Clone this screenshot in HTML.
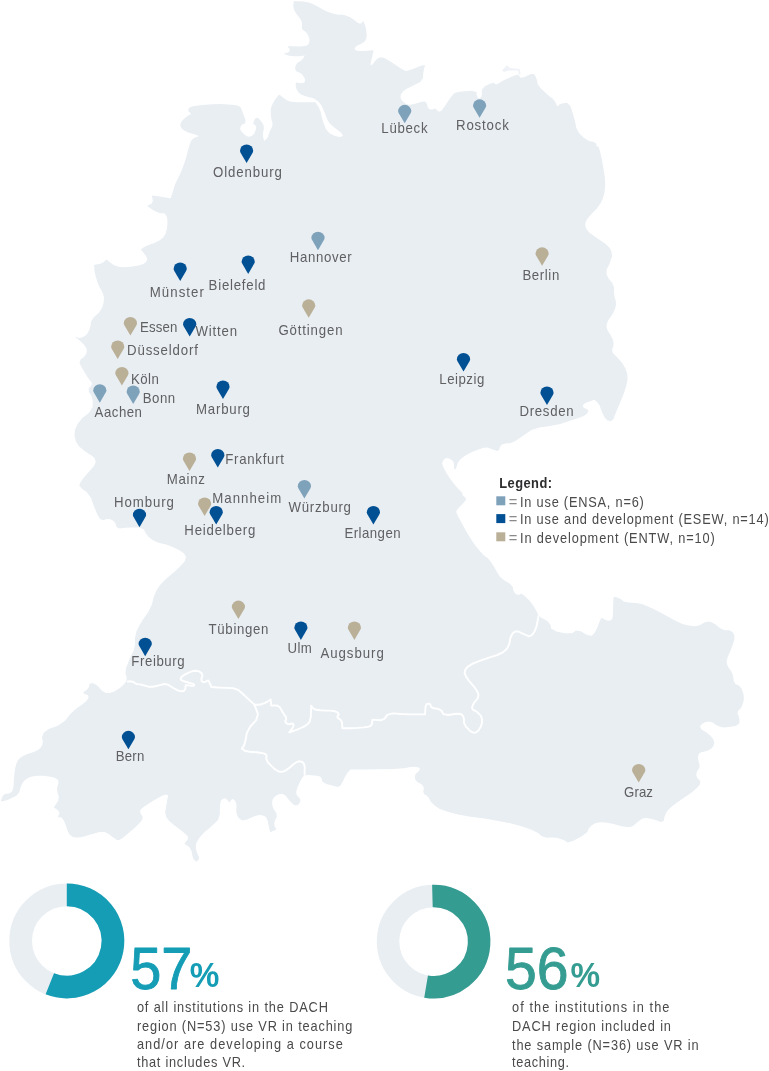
<!DOCTYPE html>
<html lang="en"><head><meta charset="utf-8"><title>VR in teaching – DACH region</title>
<style>
html,body{margin:0;padding:0;background:#fff;}
body{width:769px;height:1071px;overflow:hidden;}
svg{display:block;}
text{font-family:"Liberation Sans",sans-serif;}
.city{font-size:14.4px;fill:#606062;}
.leg{font-size:13.9px;fill:#4a4a4c;}
.para{font-size:13.9px;fill:#4a4a4c;}
</style></head><body>
<svg width="769" height="1071" viewBox="0 0 769 1071">
<rect width="769" height="1071" fill="#fff"/>

<path d="M293.6,1.2 L293.6,1.2 L296.9,1.3 L303.5,1.5 L308.8,2.4 L312.7,3.9 L317.3,6.2 L322.8,9.4 L328.2,11.9 L333.8,13.8 L338.1,14.7 L341.1,14.5 L345.0,15.3 L349.7,17.1 L353.6,19.4 L356.7,22.0 L359.1,23.4 L360.6,23.4 L361.9,22.7 L362.8,21.5 L363.3,20.8 L363.3,20.8 L364.0,22.6 L365.4,26.2 L366.3,30.4 L366.7,35.1 L366.3,38.6 L365.2,41.0 L362.3,43.3 L357.5,45.6 L355.0,47.6 L354.6,49.2 L355.8,50.3 L358.5,50.9 L363.3,51.0 L370.2,50.5 L373.6,50.2 L373.6,50.2 L373.2,52.1 L372.4,55.8 L371.5,59.7 L370.5,63.5 L370.6,65.3 L371.8,65.0 L373.5,63.2 L375.9,60.1 L378.2,58.0 L380.8,57.2 L384.4,58.0 L389.1,60.7 L394.6,64.2 L400.9,68.5 L405.2,70.7 L407.5,70.7 L413.0,69.0 L421.5,65.5 L425.2,65.3 L424.1,68.4 L423.3,72.7 L422.9,78.2 L420.3,82.1 L415.7,84.3 L411.0,86.7 L406.3,89.0 L403.0,91.6 L401.0,94.3 L400.4,96.9 L401.2,99.2 L403.0,101.6 L405.6,103.8 L408.6,104.8 L411.7,104.5 L416.1,103.5 L421.6,101.8 L424.9,101.4 L426.0,102.3 L427.0,104.3 L427.8,107.4 L429.4,109.2 L431.7,109.5 L433.5,109.3 L434.6,108.6 L436.4,109.4 L438.7,111.7 L441.4,110.8 L444.5,106.4 L447.6,102.0 L450.8,97.3 L453.3,94.2 L455.1,92.8 L461.1,91.6 L471.3,90.8 L476.5,91.9 L476.7,95.0 L477.4,97.1 L478.7,98.4 L479.9,98.4 L481.2,97.1 L481.9,94.3 L481.9,89.8 L484.9,86.2 L490.6,83.4 L494.1,82.8 L495.3,84.3 L497.1,84.3 L499.4,82.8 L503.3,80.6 L508.8,77.9 L513.2,75.9 L516.8,74.8 L519.1,75.4 L520.3,77.7 L524.0,77.3 L530.2,74.2 L534.1,74.0 L535.7,76.7 L536.9,80.0 L537.6,84.0 L540.4,88.1 L545.0,92.3 L549.1,95.9 L552.6,98.6 L555.2,101.8 L556.7,105.2 L558.1,106.2 L559.3,104.6 L562.2,103.4 L566.9,102.7 L570.5,106.2 L573.0,114.1 L575.0,121.2 L576.3,127.8 L579.2,133.2 L583.8,137.8 L588.6,140.7 L593.8,142.0 L596.4,143.7 L596.4,145.6 L597.0,146.6 L598.4,146.6 L600.0,151.1 L602.0,160.2 L603.6,169.0 L604.9,177.5 L605.2,185.3 L604.5,192.4 L602.9,198.6 L600.3,203.8 L596.4,209.0 L591.2,214.2 L587.6,218.4 L585.7,221.7 L585.2,225.1 L586.1,228.6 L589.2,232.4 L594.4,236.2 L599.9,240.1 L605.8,244.1 L609.7,247.9 L611.6,251.9 L612.0,256.1 L610.6,260.7 L609.0,264.9 L607.0,268.8 L606.4,272.3 L607.0,275.6 L609.0,279.1 L612.4,283.1 L614.0,287.6 L614.0,292.8 L614.6,297.3 L615.9,301.2 L615.9,305.5 L614.6,310.0 L612.4,314.6 L609.0,319.1 L607.0,323.0 L606.4,326.4 L607.6,330.6 L611.0,335.7 L613.0,339.9 L613.6,343.2 L613.3,346.4 L612.0,349.7 L612.9,352.9 L616.2,356.2 L619.4,359.8 L622.7,363.7 L625.3,368.2 L627.2,373.4 L627.6,379.2 L626.2,385.8 L624.3,392.2 L621.7,398.8 L619.3,404.5 L617.1,409.5 L615.1,414.4 L613.4,419.2 L610.9,421.3 L607.6,420.6 L604.8,417.7 L602.2,412.4 L600.6,408.5 L599.9,406.0 L598.2,403.4 L595.7,400.7 L593.7,399.7 L592.4,400.5 L589.7,401.5 L585.8,402.7 L583.5,404.4 L582.8,406.3 L584.1,408.0 L587.4,409.3 L588.4,411.2 L587.0,413.8 L583.8,416.0 L578.6,418.0 L570.8,420.6 L560.4,423.9 L550.0,426.1 L539.6,427.4 L531.5,430.0 L525.6,434.0 L520.1,437.8 L514.9,441.2 L510.0,443.2 L505.5,443.5 L502.4,444.3 L500.8,445.7 L499.7,447.6 L499.0,450.2 L497.2,451.0 L494.3,450.0 L491.2,448.9 L487.9,447.6 L483.7,447.8 L478.6,449.4 L473.1,451.6 L467.1,454.6 L462.8,457.3 L459.8,459.9 L457.7,463.1 L456.5,467.1 L455.4,469.2 L454.4,469.5 L454.0,467.8 L454.0,463.8 L453.0,461.1 L451.0,459.4 L448.9,458.5 L446.5,458.1 L444.5,459.0 L442.9,460.9 L442.2,463.0 L442.6,465.3 L444.2,469.0 L447.2,474.2 L450.9,479.7 L455.4,485.6 L458.8,489.5 L461.2,491.4 L462.3,493.0 L462.3,494.4 L463.3,495.8 L465.2,497.5 L466.0,499.0 L465.7,500.2 L463.2,503.2 L458.7,507.7 L456.4,510.8 L456.4,512.4 L458.0,516.3 L461.4,522.5 L465.2,529.5 L469.8,537.3 L474.6,544.5 L479.8,551.0 L484.0,555.4 L487.4,557.8 L490.6,561.6 L494.0,566.8 L496.9,571.7 L499.5,576.2 L503.7,580.1 L509.6,583.4 L512.8,587.0 L513.5,590.8 L515.1,593.4 L517.7,594.8 L519.6,594.8 L521.0,593.4 L524.2,595.4 L529.4,600.6 L533.3,605.5 L535.9,610.0 L537.5,613.3 L538.2,615.2 L541.4,617.8 L547.3,621.1 L550.5,624.7 L551.2,628.5 L556.4,631.5 L566.1,633.4 L572.6,633.1 L575.9,630.5 L580.8,631.2 L587.2,635.0 L591.8,635.7 L594.4,633.1 L596.9,628.5 L599.4,621.9 L601.0,618.5 L601.6,618.1 L603.0,618.6 L605.2,619.7 L607.2,620.4 L609.3,620.7 L611.0,620.1 L612.4,618.9 L613.0,613.2 L613.2,603.0 L613.5,597.6 L614.2,597.0 L615.8,597.0 L618.5,597.9 L621.1,599.3 L623.7,601.5 L628.6,602.6 L635.9,602.9 L642.1,604.1 L647.4,606.2 L652.5,608.5 L657.5,611.0 L665.0,615.0 L675.0,620.5 L682.5,624.0 L687.5,625.3 L691.9,626.1 L695.8,626.3 L700.0,625.1 L704.5,622.5 L708.4,621.5 L711.7,622.2 L715.6,624.5 L720.1,628.3 L724.7,630.3 L729.2,630.3 L732.5,631.9 L734.4,635.2 L734.4,639.7 L732.5,645.6 L730.2,651.4 L727.6,657.3 L726.6,661.8 L727.3,665.1 L728.9,668.3 L731.5,671.6 L733.1,675.8 L733.7,681.0 L735.6,684.2 L739.0,685.6 L741.6,688.8 L743.5,694.0 L743.9,699.2 L742.6,704.4 L740.7,708.3 L738.0,710.9 L737.4,713.5 L738.7,716.1 L739.4,719.3 L739.4,723.3 L735.8,725.9 L728.6,727.1 L723.4,727.5 L720.1,726.8 L716.5,725.2 L712.7,722.6 L708.8,721.6 L704.9,722.3 L702.0,723.9 L700.0,726.5 L701.6,729.4 L706.8,732.7 L710.7,735.9 L713.3,739.2 L714.3,742.4 L713.6,745.7 L711.7,748.3 L708.4,750.2 L704.8,751.5 L701.0,752.2 L698.7,754.1 L698.0,757.4 L698.4,761.0 L699.6,764.8 L699.3,768.1 L697.4,770.7 L696.4,773.3 L696.4,775.9 L697.7,778.5 L700.3,781.1 L699.9,784.5 L696.4,788.6 L690.7,793.3 L682.9,798.4 L676.4,803.0 L671.2,807.0 L667.6,810.6 L665.7,813.8 L664.4,817.2 L663.7,820.9 L660.8,821.9 L655.6,820.1 L650.8,818.8 L646.2,818.0 L642.4,818.6 L639.0,820.9 L636.1,823.2 L633.5,825.8 L630.2,827.0 L626.3,827.0 L620.5,825.9 L612.7,823.8 L605.8,822.5 L600.0,822.2 L595.1,823.2 L591.2,825.8 L588.6,828.6 L587.4,832.0 L582.2,836.1 L573.0,841.0 L567.5,842.6 L565.6,840.9 L562.3,839.4 L557.8,838.1 L552.6,837.6 L546.7,837.7 L541.8,836.2 L538.0,832.9 L531.5,829.7 L522.3,826.4 L511.3,823.5 L498.3,820.9 L484.7,818.6 L470.3,816.7 L458.0,814.4 L447.6,811.8 L439.8,808.9 L434.6,805.6 L431.0,802.0 L429.0,798.2 L426.8,795.6 L424.2,794.2 L423.3,791.7 L423.9,787.7 L421.9,784.5 L417.3,781.9 L415.0,779.0 L415.0,775.6 L416.0,773.4 L418.0,772.1 L419.3,770.6 L420.0,768.9 L418.7,767.6 L415.4,766.7 L410.6,767.0 L404.1,768.3 L392.9,769.1 L376.9,769.3 L364.4,769.4 L355.1,769.6 L350.5,769.6 L350.5,769.6 L349.5,770.6 L347.6,772.5 L345.2,776.4 L342.5,782.3 L340.3,785.7 L338.8,786.6 L338.0,787.1 L338.0,787.1 L334.1,786.1 L326.3,783.9 L322.2,781.5 L321.8,778.8 L320.6,776.9 L318.7,776.0 L314.6,775.4 L308.4,775.1 L304.5,775.6 L302.9,776.8 L300.6,780.6 L297.6,787.1 L296.2,791.5 L296.3,793.8 L297.6,796.2 L299.9,798.5 L300.5,801.1 L299.1,803.8 L297.5,805.2 L295.6,805.5 L293.4,804.5 L291.1,802.3 L288.7,799.7 L286.4,796.5 L284.0,794.6 L281.7,793.8 L278.9,794.2 L275.9,795.7 L273.7,797.7 L272.5,800.0 L272.1,802.8 L272.5,805.9 L273.9,809.5 L276.4,813.3 L276.8,816.8 L275.2,820.0 L274.3,822.7 L274.3,825.0 L274.9,827.0 L276.0,828.5 L276.6,829.3 L276.6,829.3 L275.1,830.1 L271.9,831.6 L270.4,832.4 L270.4,832.4 L270.1,831.6 L269.6,830.1 L268.8,826.6 L267.7,821.1 L266.2,817.6 L264.3,816.1 L261.8,815.2 L258.7,815.0 L253.8,816.5 L247.1,819.6 L242.5,820.5 L239.8,819.1 L237.8,816.8 L236.6,813.7 L236.2,810.2 L236.6,806.2 L236.2,803.1 L235.1,800.9 L233.8,799.5 L232.5,799.1 L231.2,799.9 L229.9,801.8 L229.3,802.8 L229.3,802.8 L228.7,801.8 L227.3,799.9 L225.9,798.7 L224.4,798.3 L222.7,798.9 L220.9,800.4 L219.9,805.5 L219.8,814.1 L218.1,819.9 L215.0,823.1 L210.7,827.0 L205.2,831.6 L201.1,835.8 L198.4,839.2 L196.6,842.4 L195.9,845.1 L195.9,848.0 L196.6,851.2 L197.7,854.2 L199.0,857.1 L198.8,859.4 L197.1,861.0 L196.2,861.8 L196.2,861.8 L195.4,861.1 L193.9,859.7 L192.5,856.2 L191.4,850.8 L189.2,846.9 L185.9,844.8 L184.3,843.7 L184.3,843.7 L185.5,842.3 L187.8,839.3 L188.0,836.7 L186.0,834.4 L181.3,830.5 L173.9,825.0 L168.8,820.5 L166.2,817.0 L165.2,812.7 L165.9,807.7 L166.8,802.6 L167.7,797.5 L168.2,795.0 L168.2,795.0 L167.3,794.9 L165.7,794.6 L162.2,795.8 L157.1,798.4 L151.2,802.0 L144.3,806.5 L140.6,809.6 L140.1,811.5 L140.8,813.9 L142.7,816.9 L142.1,820.1 L139.1,823.6 L134.8,827.8 L129.2,832.4 L124.8,836.2 L121.2,839.1 L118.5,840.2 L116.6,839.7 L113.2,837.6 L108.6,833.9 L104.7,832.0 L101.5,831.9 L98.4,832.2 L95.2,833.2 L90.5,834.6 L84.2,836.5 L79.1,837.5 L75.2,837.5 L72.1,836.5 L69.6,834.6 L67.7,831.3 L66.2,826.6 L64.7,822.6 L63.2,819.4 L61.2,817.6 L58.9,817.3 L57.7,817.2 L57.7,817.2 L58.3,815.9 L59.5,813.1 L58.5,810.7 L55.4,808.5 L53.8,807.4 L53.8,807.4 L55.2,805.2 L58.2,800.7 L58.8,796.4 L57.3,792.0 L57.1,787.8 L58.4,783.5 L58.3,780.6 L56.9,779.0 L53.9,777.6 L49.1,776.5 L43.7,775.8 L37.4,775.7 L32.1,776.4 L27.8,777.9 L24.5,780.4 L22.2,783.6 L20.5,787.6 L19.3,792.3 L16.4,795.8 L11.7,798.1 L7.5,799.9 L3.6,801.0 L1.6,801.6 L1.6,801.6 L1.4,801.2 L1.0,800.5 L1.6,798.5 L3.1,795.4 L5.3,793.8 L8.0,793.8 L10.4,792.8 L12.3,790.9 L13.5,786.8 L13.8,780.6 L14.4,774.4 L15.2,768.1 L16.4,763.4 L17.9,760.3 L20.3,757.7 L23.4,755.8 L28.1,753.7 L34.4,751.7 L38.6,749.5 L41.0,747.3 L42.3,744.7 L42.8,741.5 L42.6,739.6 L42.0,739.0 L42.2,736.7 L43.6,732.7 L48.8,729.1 L57.8,725.7 L65.0,720.8 L70.2,714.2 L76.0,708.8 L82.5,704.2 L86.8,700.4 L88.7,697.3 L87.8,695.0 L83.9,693.7 L83.6,692.0 L86.8,690.0 L88.7,687.4 L89.4,684.3 L91.3,683.0 L94.4,683.7 L98.0,686.2 L102.0,690.8 L106.0,693.0 L109.8,693.0 L114.3,691.4 L119.5,688.2 L123.3,685.0 L126.1,681.6 L126.8,677.8 L125.4,673.2 L126.1,667.8 L128.7,661.2 L131.2,655.4 L133.8,650.2 L135.0,644.4 L135.0,637.9 L136.3,631.7 L139.1,625.9 L143.0,619.4 L148.2,612.2 L151.8,604.7 L153.7,596.9 L156.6,590.2 L160.3,584.8 L166.1,578.8 L173.9,572.2 L180.1,566.4 L184.7,561.2 L186.0,557.0 L184.0,553.6 L179.8,550.4 L173.2,547.2 L166.1,544.6 L158.3,542.7 L152.5,540.1 L148.5,536.8 L145.6,533.2 L143.7,529.3 L139.1,527.4 L132.0,527.4 L125.5,527.7 L119.6,528.4 L116.4,527.1 L115.7,523.8 L113.8,521.2 L110.6,519.3 L107.0,519.0 L103.0,520.3 L99.8,518.7 L97.2,514.1 L94.3,507.2 L91.1,498.2 L86.8,492.0 L81.6,488.6 L79.3,485.8 L80.0,483.2 L82.2,479.7 L86.1,475.1 L90.0,470.5 L94.0,466.0 L95.7,462.1 L94.9,458.8 L92.3,455.9 L87.8,453.3 L83.2,450.1 L78.7,446.1 L75.8,441.3 L74.4,435.4 L75.1,429.6 L77.7,423.7 L82.4,418.1 L89.1,412.7 L92.6,406.9 L92.7,400.8 L91.4,395.8 L88.7,391.8 L88.7,388.3 L91.4,385.2 L92.0,382.8 L90.5,381.3 L87.7,377.4 L83.8,371.1 L81.0,366.2 L79.5,362.8 L80.5,359.6 L84.0,356.9 L86.1,353.9 L86.9,350.9 L86.3,347.9 L84.4,345.2 L81.2,342.0 L76.9,338.3 L74.8,336.5 L74.8,336.5 L76.2,337.0 L78.9,337.9 L81.8,337.6 L85.0,336.1 L87.5,333.4 L89.4,329.4 L90.6,325.6 L91.0,321.6 L93.8,317.3 L98.9,312.7 L102.2,307.6 L103.7,302.1 L104.0,297.5 L103.1,293.9 L101.6,290.5 L99.7,287.6 L97.7,283.0 L95.8,276.7 L94.6,271.5 L94.2,267.1 L94.0,265.0 L94.0,265.0 L96.0,264.6 L99.8,263.9 L103.0,262.5 L105.3,260.6 L106.5,259.6 L106.5,259.6 L108.8,261.4 L113.6,264.9 L118.6,266.8 L124.1,267.2 L130.7,266.8 L138.5,265.6 L143.6,264.0 L145.9,262.1 L147.1,260.1 L147.1,258.2 L145.5,255.2 L142.5,251.4 L140.9,249.4 L140.9,249.4 L142.1,248.6 L144.3,247.1 L148.6,245.1 L154.9,242.8 L159.8,240.2 L163.2,237.5 L165.6,233.8 L166.8,229.2 L167.4,224.5 L167.4,219.8 L166.6,216.3 L165.1,214.0 L163.3,213.0 L161.4,213.4 L158.6,212.8 L155.1,211.2 L151.8,209.2 L148.6,206.9 L147.1,205.7 L147.1,205.7 L148.6,204.9 L151.8,203.4 L152.9,200.8 L152.2,197.3 L151.8,195.6 L151.8,195.6 L153.4,195.7 L156.4,196.0 L161.1,196.7 L167.4,197.8 L170.5,198.4 L170.5,198.4 L171.3,196.2 L172.8,191.7 L173.9,188.3 L174.4,186.0 L176.2,181.8 L179.4,175.5 L182.1,169.3 L184.4,163.0 L186.4,156.8 L187.9,150.5 L189.5,145.2 L191.0,141.0 L193.6,138.2 L197.1,136.8 L198.9,136.2 L198.9,136.2 L198.1,135.8 L196.5,135.0 L193.2,133.9 L188.1,132.5 L184.2,130.6 L181.5,128.3 L180.3,125.7 L180.7,123.1 L182.5,120.3 L185.6,117.6 L188.2,115.6 L190.1,114.5 L191.1,113.9 L191.1,113.9 L190.2,112.9 L188.4,111.0 L188.2,109.2 L189.6,107.6 L193.0,106.3 L198.5,105.5 L205.1,104.8 L212.9,104.2 L220.7,104.1 L228.5,104.4 L234.4,104.9 L238.2,105.7 L240.8,107.6 L242.0,110.8 L243.6,114.8 L245.5,120.0 L245.1,123.2 L242.4,124.6 L240.7,126.3 L240.2,128.4 L240.8,130.5 L242.5,132.4 L244.5,134.4 L246.8,136.3 L249.4,136.8 L252.1,135.7 L254.3,133.4 L255.8,129.7 L256.2,127.1 L255.4,125.6 L254.4,124.6 L253.3,124.2 L253.3,122.7 L254.4,119.9 L255.6,118.3 L256.8,117.8 L258.3,118.3 L260.1,120.1 L261.9,122.3 L263.5,125.0 L263.9,128.5 L263.1,132.8 L263.0,136.4 L263.8,139.5 L264.2,141.0 L264.2,141.0 L265.0,140.2 L266.8,138.8 L268.1,136.5 L268.9,133.5 L270.3,130.2 L272.1,126.8 L272.6,123.6 L271.8,120.7 L271.1,117.0 L270.6,112.3 L271.0,108.0 L272.4,104.2 L274.6,100.2 L277.6,96.4 L279.2,94.4 L279.2,94.4 L280.6,95.6 L283.6,97.9 L286.6,99.9 L289.6,101.4 L297.2,102.2 L309.3,102.2 L315.4,102.2 L315.4,102.2 L316.6,104.0 L318.9,107.5 L320.7,111.9 L321.8,117.3 L323.5,123.0 L325.9,129.0 L329.8,133.4 L335.2,136.1 L339.6,137.0 L343.0,136.0 L341.0,132.6 L333.6,126.9 L329.3,122.9 L327.8,120.6 L326.3,117.3 L324.8,113.0 L323.0,108.8 L321.1,105.0 L318.7,101.9 L316.0,99.7 L312.7,98.1 L308.8,97.2 L304.9,96.0 L300.9,94.4 L298.1,92.0 L296.5,89.0 L295.7,86.2 L295.8,83.7 L295.9,82.4 L295.9,82.4 L298.0,82.7 L302.4,83.2 L304.7,82.3 L305.1,80.0 L304.3,77.4 L302.4,74.7 L299.8,72.7 L296.7,71.6 L295.2,69.2 L295.5,65.8 L297.2,63.0 L300.5,61.1 L302.8,58.9 L304.2,56.6 L304.9,55.4 L304.9,55.4 L303.0,55.7 L299.4,56.2 L294.8,56.2 L289.2,55.7 L285.9,54.8 L284.8,53.7 L284.2,53.1 L284.2,53.1 L285.4,53.0 L287.7,52.8 L289.2,51.8 L289.7,50.1 L289.3,48.5 L288.0,47.0 L287.3,46.3 L287.3,46.3 L291.8,46.3 L300.8,46.5 L306.3,45.8 L308.2,44.4 L309.3,42.3 L309.5,39.6 L308.9,36.9 L307.5,34.1 L305.5,31.8 L302.8,29.9 L301.6,27.9 L302.1,26.0 L302.1,23.8 L301.6,21.5 L300.0,18.6 L297.3,15.1 L295.2,11.9 L293.9,9.2 L293.3,6.1 L293.5,2.8 Z" fill="#e9eef3"/>
<path d="M127.6,681.5 L128.8,681.5 L131.3,681.3 L133.4,682.0 L135.2,683.3 L137.3,684.1 L139.8,684.4 L143.4,685.2 L148.2,686.7 L152.8,686.8 L157.6,685.7 L161.5,684.7 L164.6,684.0 L167.8,684.6 L170.9,686.5 L174.2,688.5 L177.8,690.4 L180.9,691.3 L183.6,691.0 L185.2,689.4 L185.5,686.6 L185.7,685.1 L185.7,685.1 L187.7,685.4 L191.6,685.9 L193.8,685.7 L194.3,684.8 L193.0,683.8 L189.7,683.0 L186.3,682.0 L182.8,680.9 L180.9,679.8 L180.5,678.7 L181.5,677.1 L183.8,675.2 L187.2,673.3 L191.4,671.5 L194.9,670.7 L197.7,671.0 L200.0,671.9 L201.9,673.4 L202.4,675.8 L201.4,678.8 L201.6,680.9 L203.0,682.0 L204.9,682.0 L207.2,680.9 L208.4,680.4 L208.4,680.4 L209.2,682.1 L210.7,685.4 L211.5,687.1 L211.5,687.1 L214.2,687.3 L219.7,687.6 L225.9,687.9 L233.0,688.1 L238.6,690.2 L242.9,694.0 L247.3,698.1 L252.1,702.5 L254.4,704.6" fill="none" stroke="#fff" stroke-width="1.9" stroke-linejoin="round" stroke-linecap="round"/>
<path d="M254.4,704.6 L255.8,704.7 L258.6,704.7 L261.6,704.2 L264.6,703.1 L267.3,701.7 L269.5,700.2 L270.6,699.4 L270.6,699.4 L270.8,700.9 L271.0,704.1 L271.2,705.6 L271.2,705.6 L273.1,705.5 L276.8,705.4 L279.9,707.3 L282.2,711.4 L284.2,714.6 L286.0,717.1 L286.3,719.3 L285.2,721.1 L285.8,722.6 L287.8,724.0 L289.9,724.2 L291.8,723.5 L293.1,723.8 L293.7,725.2 L292.8,727.5 L290.5,730.8 L289.3,732.4 L289.3,732.4 L291.7,731.5 L296.6,729.9 L300.9,728.0 L304.9,726.1 L307.8,723.9 L309.7,721.6 L310.8,716.7 L311.1,709.3 L311.2,705.6 L311.2,705.6 L311.8,706.6 L313.2,708.5 L316.0,709.8 L320.2,710.3 L325.1,710.6 L330.6,710.6 L334.9,711.3 L338.0,712.7 L338.8,714.4 L337.3,716.3 L337.9,718.1 L340.5,719.6 L342.0,722.3 L342.3,726.3 L342.4,728.2 L342.4,728.2 L345.2,728.2 L350.8,728.2 L357.1,727.9 L364.2,727.4 L368.8,726.6 L370.9,725.6 L372.1,723.8 L372.3,721.1 L372.4,719.7 L372.4,719.7 L375.1,719.9 L380.6,720.3 L384.6,718.6 L387.2,714.9 L392.7,713.4 L401.2,714.0 L410.3,714.4 L420.1,714.4 L425.0,714.4 L425.0,714.4 L425.2,711.8 L425.5,706.6 L426.8,703.9 L428.9,703.6 L430.4,704.6 L431.0,706.9 L433.7,708.3 L438.2,708.9 L441.5,710.8 L443.4,714.1 L448.3,715.0 L456.1,713.7 L461.0,714.0 L463.0,716.0 L464.0,719.0 L464.0,722.8 L465.9,726.7 L469.8,730.7 L473.0,732.6 L475.7,732.6 L478.2,730.7 L480.8,726.7 L482.0,722.8 L482.0,719.0 L480.8,715.7 L478.2,713.1 L475.7,711.1 L473.0,709.9 L472.0,707.9 L472.7,705.3 L474.6,702.0 L477.9,698.2 L478.5,694.3 L476.6,690.3 L473.3,685.8 L468.8,680.6 L465.9,676.4 L464.6,673.1 L465.2,669.9 L467.8,666.6 L473.2,663.4 L481.8,660.1 L489.7,657.4 L497.1,655.1 L502.8,652.4 L506.7,649.0 L509.3,644.1 L510.5,637.6 L512.5,633.4 L515.1,631.5 L518.3,631.5 L522.2,633.4 L525.8,635.0 L529.1,636.4 L532.0,635.0 L534.7,631.2 L536.6,626.0 L537.9,619.5 L538.5,616.2" fill="none" stroke="#fff" stroke-width="1.9" stroke-linejoin="round" stroke-linecap="round"/>
<path d="M254.4,704.6 L255.6,707.7 L257.9,714.0 L256.2,720.2 L250.3,726.5 L246.8,733.1 L245.6,740.1 L244.2,744.9 L242.7,747.4 L241.9,748.6 L241.9,748.6 L242.9,749.3 L244.8,750.7 L249.4,751.7 L256.4,752.3 L261.8,753.0 L265.2,753.9 L266.7,755.8 L266.2,758.7 L267.9,762.4 L272.0,766.6 L275.6,769.7 L278.7,771.5 L281.9,771.9 L284.9,770.9 L288.9,768.3 L293.5,764.2 L297.3,761.8 L300.0,761.3 L302.3,762.0 L304.0,763.9 L304.8,767.4 L304.6,772.3 L304.5,774.8" fill="none" stroke="#fff" stroke-width="1.9" stroke-linejoin="round" stroke-linecap="round"/>
<path d="M502,70.6 L506.8,65.2 L510,68.1 L519.6,69.1 L520.6,74.4 L518.6,74.6 L518.4,70.6 L509,70.5 L504,71.9 Z" fill="#e9eef3" opacity="0.75"/>
<path transform="translate(404.7,104.8)" d="M0,18.5 L-5.9,8.4 Q-6.6,7.2 -6.6,6.3 A6.6,6.3 0 0 1 6.6,6.3 Q6.6,7.2 5.9,8.4 Z" fill="#7fa2bb"/>
<path transform="translate(479.6,99.3)" d="M0,18.5 L-5.9,8.4 Q-6.6,7.2 -6.6,6.3 A6.6,6.3 0 0 1 6.6,6.3 Q6.6,7.2 5.9,8.4 Z" fill="#7fa2bb"/>
<path transform="translate(246.6,144.5)" d="M0,18.5 L-5.9,8.4 Q-6.6,7.2 -6.6,6.3 A6.6,6.3 0 0 1 6.6,6.3 Q6.6,7.2 5.9,8.4 Z" fill="#005093"/>
<path transform="translate(318.0,231.7)" d="M0,18.5 L-5.9,8.4 Q-6.6,7.2 -6.6,6.3 A6.6,6.3 0 0 1 6.6,6.3 Q6.6,7.2 5.9,8.4 Z" fill="#7fa2bb"/>
<path transform="translate(248.2,255.4)" d="M0,18.5 L-5.9,8.4 Q-6.6,7.2 -6.6,6.3 A6.6,6.3 0 0 1 6.6,6.3 Q6.6,7.2 5.9,8.4 Z" fill="#005093"/>
<path transform="translate(180.2,262.5)" d="M0,18.5 L-5.9,8.4 Q-6.6,7.2 -6.6,6.3 A6.6,6.3 0 0 1 6.6,6.3 Q6.6,7.2 5.9,8.4 Z" fill="#005093"/>
<path transform="translate(542.1,247.3)" d="M0,18.5 L-5.9,8.4 Q-6.6,7.2 -6.6,6.3 A6.6,6.3 0 0 1 6.6,6.3 Q6.6,7.2 5.9,8.4 Z" fill="#bab098"/>
<path transform="translate(308.7,299.3)" d="M0,18.5 L-5.9,8.4 Q-6.6,7.2 -6.6,6.3 A6.6,6.3 0 0 1 6.6,6.3 Q6.6,7.2 5.9,8.4 Z" fill="#bab098"/>
<path transform="translate(130.4,317.0)" d="M0,18.5 L-5.9,8.4 Q-6.6,7.2 -6.6,6.3 A6.6,6.3 0 0 1 6.6,6.3 Q6.6,7.2 5.9,8.4 Z" fill="#bab098"/>
<path transform="translate(189.7,318.0)" d="M0,18.5 L-5.9,8.4 Q-6.6,7.2 -6.6,6.3 A6.6,6.3 0 0 1 6.6,6.3 Q6.6,7.2 5.9,8.4 Z" fill="#005093"/>
<path transform="translate(117.7,340.5)" d="M0,18.5 L-5.9,8.4 Q-6.6,7.2 -6.6,6.3 A6.6,6.3 0 0 1 6.6,6.3 Q6.6,7.2 5.9,8.4 Z" fill="#bab098"/>
<path transform="translate(121.9,367.0)" d="M0,18.5 L-5.9,8.4 Q-6.6,7.2 -6.6,6.3 A6.6,6.3 0 0 1 6.6,6.3 Q6.6,7.2 5.9,8.4 Z" fill="#bab098"/>
<path transform="translate(99.8,384.2)" d="M0,18.5 L-5.9,8.4 Q-6.6,7.2 -6.6,6.3 A6.6,6.3 0 0 1 6.6,6.3 Q6.6,7.2 5.9,8.4 Z" fill="#7fa2bb"/>
<path transform="translate(133.2,385.5)" d="M0,18.5 L-5.9,8.4 Q-6.6,7.2 -6.6,6.3 A6.6,6.3 0 0 1 6.6,6.3 Q6.6,7.2 5.9,8.4 Z" fill="#7fa2bb"/>
<path transform="translate(223.0,380.5)" d="M0,18.5 L-5.9,8.4 Q-6.6,7.2 -6.6,6.3 A6.6,6.3 0 0 1 6.6,6.3 Q6.6,7.2 5.9,8.4 Z" fill="#005093"/>
<path transform="translate(463.5,353.0)" d="M0,18.5 L-5.9,8.4 Q-6.6,7.2 -6.6,6.3 A6.6,6.3 0 0 1 6.6,6.3 Q6.6,7.2 5.9,8.4 Z" fill="#005093"/>
<path transform="translate(547.0,386.5)" d="M0,18.5 L-5.9,8.4 Q-6.6,7.2 -6.6,6.3 A6.6,6.3 0 0 1 6.6,6.3 Q6.6,7.2 5.9,8.4 Z" fill="#005093"/>
<path transform="translate(189.5,452.5)" d="M0,18.5 L-5.9,8.4 Q-6.6,7.2 -6.6,6.3 A6.6,6.3 0 0 1 6.6,6.3 Q6.6,7.2 5.9,8.4 Z" fill="#bab098"/>
<path transform="translate(217.8,449.0)" d="M0,18.5 L-5.9,8.4 Q-6.6,7.2 -6.6,6.3 A6.6,6.3 0 0 1 6.6,6.3 Q6.6,7.2 5.9,8.4 Z" fill="#005093"/>
<path transform="translate(304.4,480.0)" d="M0,18.5 L-5.9,8.4 Q-6.6,7.2 -6.6,6.3 A6.6,6.3 0 0 1 6.6,6.3 Q6.6,7.2 5.9,8.4 Z" fill="#7fa2bb"/>
<path transform="translate(139.5,508.7)" d="M0,18.5 L-5.9,8.4 Q-6.6,7.2 -6.6,6.3 A6.6,6.3 0 0 1 6.6,6.3 Q6.6,7.2 5.9,8.4 Z" fill="#005093"/>
<path transform="translate(204.6,497.5)" d="M0,18.5 L-5.9,8.4 Q-6.6,7.2 -6.6,6.3 A6.6,6.3 0 0 1 6.6,6.3 Q6.6,7.2 5.9,8.4 Z" fill="#bab098"/>
<path transform="translate(216.2,506.0)" d="M0,18.5 L-5.9,8.4 Q-6.6,7.2 -6.6,6.3 A6.6,6.3 0 0 1 6.6,6.3 Q6.6,7.2 5.9,8.4 Z" fill="#005093"/>
<path transform="translate(373.4,506.0)" d="M0,18.5 L-5.9,8.4 Q-6.6,7.2 -6.6,6.3 A6.6,6.3 0 0 1 6.6,6.3 Q6.6,7.2 5.9,8.4 Z" fill="#005093"/>
<path transform="translate(238.4,600.6)" d="M0,18.5 L-5.9,8.4 Q-6.6,7.2 -6.6,6.3 A6.6,6.3 0 0 1 6.6,6.3 Q6.6,7.2 5.9,8.4 Z" fill="#bab098"/>
<path transform="translate(300.9,621.4)" d="M0,18.5 L-5.9,8.4 Q-6.6,7.2 -6.6,6.3 A6.6,6.3 0 0 1 6.6,6.3 Q6.6,7.2 5.9,8.4 Z" fill="#005093"/>
<path transform="translate(354.4,621.4)" d="M0,18.5 L-5.9,8.4 Q-6.6,7.2 -6.6,6.3 A6.6,6.3 0 0 1 6.6,6.3 Q6.6,7.2 5.9,8.4 Z" fill="#bab098"/>
<path transform="translate(145.2,637.7)" d="M0,18.5 L-5.9,8.4 Q-6.6,7.2 -6.6,6.3 A6.6,6.3 0 0 1 6.6,6.3 Q6.6,7.2 5.9,8.4 Z" fill="#005093"/>
<path transform="translate(128.4,730.8)" d="M0,18.5 L-5.9,8.4 Q-6.6,7.2 -6.6,6.3 A6.6,6.3 0 0 1 6.6,6.3 Q6.6,7.2 5.9,8.4 Z" fill="#005093"/>
<path transform="translate(638.7,764.0)" d="M0,18.5 L-5.9,8.4 Q-6.6,7.2 -6.6,6.3 A6.6,6.3 0 0 1 6.6,6.3 Q6.6,7.2 5.9,8.4 Z" fill="#bab098"/>
<g style="opacity:0.999">
<text class="city" transform="translate(381.3,133.2) scale(0.92,1)" textLength="50.3" lengthAdjust="spacing">Lübeck</text>
<text class="city" transform="translate(456.0,129.8) scale(0.92,1)" textLength="57.4" lengthAdjust="spacing">Rostock</text>
<text class="city" transform="translate(213.0,176.9) scale(0.92,1)" textLength="75.0" lengthAdjust="spacing">Oldenburg</text>
<text class="city" transform="translate(289.7,262.2) scale(0.92,1)" textLength="67.3" lengthAdjust="spacing">Hannover</text>
<text class="city" transform="translate(208.6,290.3) scale(0.92,1)" textLength="61.8" lengthAdjust="spacing">Bielefeld</text>
<text class="city" transform="translate(149.8,296.9) scale(0.92,1)" textLength="58.7" lengthAdjust="spacing">Münster</text>
<text class="city" transform="translate(522.4,280.4) scale(0.92,1)" textLength="40.1" lengthAdjust="spacing">Berlin</text>
<text class="city" transform="translate(278.5,334.6) scale(0.92,1)" textLength="69.6" lengthAdjust="spacing">Göttingen</text>
<text class="city" transform="translate(140.0,332.0) scale(0.92,1)" textLength="40.5" lengthAdjust="spacing">Essen</text>
<text class="city" transform="translate(195.5,335.6) scale(0.92,1)" textLength="45.3" lengthAdjust="spacing">Witten</text>
<text class="city" transform="translate(127.0,355.4) scale(0.92,1)" textLength="77.2" lengthAdjust="spacing">Düsseldorf</text>
<text class="city" transform="translate(131.0,384.0) scale(0.92,1)" textLength="30.3" lengthAdjust="spacing">Köln</text>
<text class="city" transform="translate(94.6,416.6) scale(0.92,1)" textLength="51.5" lengthAdjust="spacing">Aachen</text>
<text class="city" transform="translate(142.7,402.8) scale(0.92,1)" textLength="35.3" lengthAdjust="spacing">Bonn</text>
<text class="city" transform="translate(196.0,414.0) scale(0.92,1)" textLength="58.7" lengthAdjust="spacing">Marburg</text>
<text class="city" transform="translate(439.3,384.3) scale(0.92,1)" textLength="48.9" lengthAdjust="spacing">Leipzig</text>
<text class="city" transform="translate(519.5,416.2) scale(0.92,1)" textLength="58.8" lengthAdjust="spacing">Dresden</text>
<text class="city" transform="translate(166.7,484.3) scale(0.92,1)" textLength="41.6" lengthAdjust="spacing">Mainz</text>
<text class="city" transform="translate(225.2,464.1) scale(0.92,1)" textLength="63.9" lengthAdjust="spacing">Frankfurt</text>
<text class="city" transform="translate(288.6,512.1) scale(0.92,1)" textLength="67.8" lengthAdjust="spacing">Würzburg</text>
<text class="city" transform="translate(114.0,507.2) scale(0.92,1)" textLength="65.2" lengthAdjust="spacing">Homburg</text>
<text class="city" transform="translate(212.2,502.8) scale(0.92,1)" textLength="75.1" lengthAdjust="spacing">Mannheim</text>
<text class="city" transform="translate(184.3,535.0) scale(0.92,1)" textLength="77.3" lengthAdjust="spacing">Heidelberg</text>
<text class="city" transform="translate(344.5,537.6) scale(0.92,1)" textLength="61.0" lengthAdjust="spacing">Erlangen</text>
<text class="city" transform="translate(208.6,634.3) scale(0.92,1)" textLength="65.0" lengthAdjust="spacing">Tübingen</text>
<text class="city" transform="translate(287.6,652.5) scale(0.92,1)" textLength="26.3" lengthAdjust="spacing">Ulm</text>
<text class="city" transform="translate(320.4,657.6) scale(0.92,1)" textLength="69.0" lengthAdjust="spacing">Augsburg</text>
<text class="city" transform="translate(131.3,666.4) scale(0.92,1)" textLength="58.0" lengthAdjust="spacing">Freiburg</text>
<text class="city" transform="translate(115.7,760.8) scale(0.92,1)" textLength="31.1" lengthAdjust="spacing">Bern</text>
<text class="city" transform="translate(624.0,796.6) scale(0.92,1)" textLength="31.5" lengthAdjust="spacing">Graz</text>
</g>
<g style="opacity:0.999">
<text style="font-size:14px;font-weight:bold;fill:#2e2e30" transform="translate(499.2,487.6) scale(0.92,1)" textLength="57.4" lengthAdjust="spacing">Legend:</text>
<rect x="496.3" y="496.3" width="9" height="9" fill="#7fa2bb"/>
<text class="leg" x="508.8" y="506.5" textLength="8.6" lengthAdjust="spacingAndGlyphs" style="fill:#8a8a8c">=</text>
<text class="leg" transform="translate(520.0,506.5) scale(0.92,1)" textLength="134.6" lengthAdjust="spacing">In use (ENSA, n=6)</text>
<rect x="496.3" y="514.1" width="9" height="9" fill="#005093"/>
<text class="leg" x="508.8" y="524.3" textLength="8.6" lengthAdjust="spacingAndGlyphs" style="fill:#8a8a8c">=</text>
<text class="leg" transform="translate(520.0,524.3) scale(0.92,1)" textLength="270.3" lengthAdjust="spacing">In use and development (ESEW, n=14)</text>
<rect x="496.3" y="532.3" width="9" height="9" fill="#bab098"/>
<text class="leg" x="508.8" y="542.5" textLength="8.6" lengthAdjust="spacingAndGlyphs" style="fill:#8a8a8c">=</text>
<text class="leg" transform="translate(520.0,542.5) scale(0.92,1)" textLength="211.7" lengthAdjust="spacing">In development (ENTW, n=10)</text>
<circle cx="66.8" cy="940.9" r="46.12" fill="none" stroke="#e9eef3" stroke-width="22.75"/>
<path d="M66.80,894.78 A46.12,46.12 0 1 1 49.82,983.78" fill="none" stroke="#149db5" stroke-width="22.75"/>
<circle cx="433.6" cy="941.6" r="45.55" fill="none" stroke="#e9eef3" stroke-width="22.50"/>
<path d="M432.41,896.07 A45.55,45.55 0 1 1 426.08,986.53" fill="none" stroke="#359c92" stroke-width="22.50"/>
<text x="130.2" y="988.7" textLength="62.2" lengthAdjust="spacingAndGlyphs" style="font-size:60.0px;fill:#149db5;stroke:#149db5;stroke-width:0.90;stroke-linejoin:round">57</text>
<text x="189.8" y="986.8" textLength="29.6" lengthAdjust="spacingAndGlyphs" style="font-size:35.0px;font-weight:bold;fill:#149db5;stroke:#149db5;stroke-width:0.00;stroke-linejoin:round">%</text>
<text x="505.0" y="988.7" textLength="63.6" lengthAdjust="spacingAndGlyphs" style="font-size:60.0px;fill:#359c92;stroke:#359c92;stroke-width:0.90;stroke-linejoin:round">56</text>
<text x="570.4" y="986.8" textLength="29.6" lengthAdjust="spacingAndGlyphs" style="font-size:35.0px;font-weight:bold;fill:#359c92;stroke:#359c92;stroke-width:0.00;stroke-linejoin:round">%</text>
<text class="para" transform="translate(136.9,1011.9) scale(0.92,1)" textLength="207.6" lengthAdjust="spacing">of all institutions in the DACH</text>
<text class="para" transform="translate(136.9,1030.7) scale(0.92,1)" textLength="234.2" lengthAdjust="spacing">region (N=53) use VR in teaching</text>
<text class="para" transform="translate(136.9,1049.3) scale(0.92,1)" textLength="223.9" lengthAdjust="spacing">and/or are developing a course</text>
<text class="para" transform="translate(136.9,1067.1) scale(0.92,1)" textLength="117.7" lengthAdjust="spacing">that includes VR.</text>
<text class="para" transform="translate(512.0,1012.4) scale(0.92,1)" textLength="171.1" lengthAdjust="spacing">of the institutions in the</text>
<text class="para" transform="translate(512.0,1031.2) scale(0.92,1)" textLength="172.8" lengthAdjust="spacing">DACH region included in</text>
<text class="para" transform="translate(512.0,1049.7) scale(0.92,1)" textLength="202.8" lengthAdjust="spacing">the sample (N=36) use VR in</text>
<text class="para" transform="translate(512.0,1066.9) scale(0.92,1)" textLength="62.0" lengthAdjust="spacing">teaching.</text>
</g>
</svg></body></html>
